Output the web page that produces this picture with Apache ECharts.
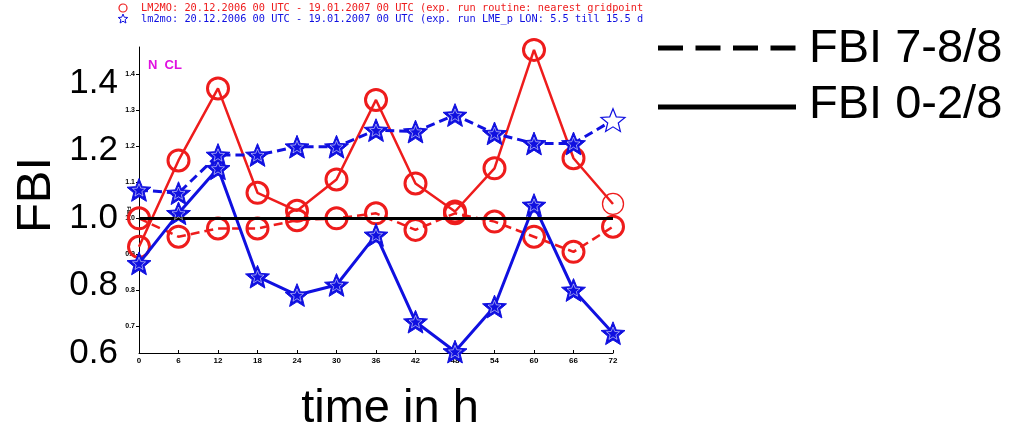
<!DOCTYPE html>
<html>
<head>
<meta charset="utf-8">
<script src="https://cdn.jsdelivr.net/npm/echarts@6/dist/echarts.min.js"></script>
<style>
  html, body { margin: 0; padding: 0; background: #fff; }
  #fbiChart { width: 1018px; height: 433px; }
</style>
</head>
<body>
<div id="fbiChart"></div>
<script>
// lead time in hours
const hours = ['0', '6', '12', '18', '24', '30', '36', '42', '48', '54', '60', '66', '72']
// LM2MO (red circles)
const lm2moClear = [0.92, 1.16, 1.36, 1.07, 1.02, 1.107, 1.328, 1.096, 1.018, 1.138, 1.467, 1.166, 1.039]
const lm2moCloudy = [0.999, 0.948, 0.971, 0.971, 0.994, 0.999, 1.013, 0.967, 1.013, 0.99, 0.948, 0.906, 0.976]
// lm2mo (blue stars)
const lmeClear = [0.874, 1.013, 1.138, 0.837, 0.786, 0.814, 0.953, 0.712, 0.629, 0.754, 1.036, 0.8, 0.68]
const lmeCloudy = [1.078, 1.069, 1.175, 1.175, 1.198, 1.198, 1.244, 1.24, 1.286, 1.235, 1.207, 1.207, 1.272]
// inner (original plot) and outer (overlaid) y tick labels
const innerTicks = [0.7, 0.8, 0.9, 1.0, 1.1, 1.2, 1.3, 1.4]
const outerTicks = [0.6, 0.8, 1.0, 1.2, 1.4]
const perfectScore = 1.0

const RED = '#ee1c1c'
const BLUE = '#1010e0'
const STAR_PTS = [[50, 0], [62.9, 32.3], [97.55, 34.55], [70.9, 56.8], [79.39, 90.45], [50, 72], [20.61, 90.45], [29.1, 56.8], [2.45, 34.55], [37.1, 32.3]]
const STAR = 'path://M' + STAR_PTS.map(function (p) { return p[0] + ' ' + p[1] }).join(' L') + ' Z'

// last point of the series is drawn hollow and thin
function lastHollow (values, color, isStar) {
  return values.map(function (v, i) {
    if (i !== values.length - 1) return v
    return {
      value: v,
      itemStyle: isStar
        ? { color: '#fff', borderColor: color, borderWidth: 1.2 }
        : { color: 'transparent', borderColor: color, borderWidth: 1.3 }
    }
  })
}
// white inner outline of the filled stars (skip the hollow last one)
function innerStars (values, skipLast) {
  return values.map(function (v, i) { return (skipLast && i === values.length - 1) ? '-' : v })
}

let myChart = echarts.init(document.getElementById('fbiChart'))
myChart.setOption({
  animation: false,
  grid: { left: 139, right: 405, top: 47, bottom: 80 },
  xAxis: {
    type: 'category',
    data: hours,
    boundaryGap: false,
    axisLine: { lineStyle: { color: '#000', width: 1 } },
    axisTick: { show: true, inside: true, length: 3, lineStyle: { color: '#000' } },
    axisLabel: { color: '#000', fontSize: 8, fontWeight: 'bold', margin: 4, fontFamily: 'Liberation Sans' },
    splitLine: { show: false }
  },
  yAxis: [
    {
      type: 'value',
      min: 0.625,
      max: 1.475,
      position: 'left',
      axisLine: { show: true, onZero: false, lineStyle: { color: '#000', width: 1 } },
      axisTick: { show: true, length: 3, customValues: innerTicks, lineStyle: { color: '#000' } },
      axisLabel: {
        customValues: innerTicks,
        color: '#000',
        fontSize: 7,
        fontWeight: 'bold',
        margin: 4,
        fontFamily: 'Liberation Sans',
        formatter: function (v) { return v.toFixed(1) }
      },
      splitLine: { show: false }
    },
    {
      type: 'value',
      min: 0.6,
      max: 1.507,
      position: 'left',
      axisLine: { show: false },
      axisTick: { show: false, customValues: outerTicks },
      axisLabel: {
        customValues: outerTicks,
        color: '#000',
        fontSize: 35,
        margin: 21,
        fontFamily: 'Liberation Sans',
        formatter: function (v) { return v.toFixed(1) }
      },
      splitLine: { show: false }
    }
  ],
  series: [
    {
      name: 'LM2MO FBI 0-2/8',
      type: 'line',
      data: lastHollow(lm2moClear, RED, false),
      symbol: 'circle',
      symbolSize: 21,
      clip: false,
      lineStyle: { color: RED, width: 2.5 },
      itemStyle: { color: 'transparent', borderColor: RED, borderWidth: 3 },
      z: 3,
      markLine: {
        silent: true,
        symbol: 'none',
        label: { show: false },
        lineStyle: { color: '#000', type: 'solid', width: 3 },
        data: [{ yAxis: perfectScore }]
      }
    },
    {
      name: 'LM2MO FBI 7-8/8',
      type: 'line',
      data: lm2moCloudy,
      symbol: 'circle',
      symbolSize: 21,
      clip: false,
      lineStyle: { color: RED, width: 2.5, type: [9, 5] },
      itemStyle: { color: 'transparent', borderColor: RED, borderWidth: 3 },
      z: 3
    },
    {
      name: 'lm2mo FBI 0-2/8',
      type: 'line',
      data: lmeClear,
      symbol: STAR,
      symbolKeepAspect: true,
      symbolSize: 24,
      clip: false,
      lineStyle: { color: BLUE, width: 3 },
      itemStyle: { color: BLUE, borderColor: BLUE, borderWidth: 1 },
      z: 4
    },
    {
      name: 'lm2mo FBI 7-8/8',
      type: 'line',
      data: lastHollow(lmeCloudy, BLUE, true),
      symbol: STAR,
      symbolKeepAspect: true,
      symbolSize: 24,
      clip: false,
      lineStyle: { color: BLUE, width: 3, type: [9, 5] },
      itemStyle: { color: BLUE, borderColor: BLUE, borderWidth: 1 },
      z: 4
    },
    {
      type: 'scatter',
      data: innerStars(lmeClear, false).concat([]),
      symbol: STAR,
      symbolKeepAspect: true,
      symbolSize: 13,
      clip: false,
      silent: true,
      itemStyle: { color: 'transparent', borderColor: 'rgba(255,255,255,0.85)', borderWidth: 0.8 },
      z: 5
    },
    {
      type: 'scatter',
      data: innerStars(lmeCloudy, true),
      symbol: STAR,
      symbolKeepAspect: true,
      symbolSize: 13,
      clip: false,
      silent: true,
      itemStyle: { color: 'transparent', borderColor: 'rgba(255,255,255,0.85)', borderWidth: 0.8 },
      z: 5
    }
  ],
  graphic: [
    // run description header
    { type: 'circle', shape: { cx: 123, cy: 8, r: 4 }, style: { fill: 'none', stroke: RED, lineWidth: 1.2 } },
    { type: 'text', x: 141, y: 8, style: { text: 'LM2MO: 20.12.2006 00 UTC - 19.01.2007 00 UTC (exp. run routine: nearest gridpoint', fill: RED, font: '10.3px "DejaVu Sans Mono"', verticalAlign: 'middle' } },
    { type: 'polygon', x: 118, y: 14, scaleX: 0.1, scaleY: 0.1, shape: { points: STAR_PTS }, style: { fill: 'none', stroke: BLUE, lineWidth: 10 } },
    { type: 'text', x: 141, y: 19, style: { text: 'lm2mo: 20.12.2006 00 UTC - 19.01.2007 00 UTC (exp. run LME_p LON: 5.5 till 15.5 d', fill: BLUE, font: '10.3px "DejaVu Sans Mono"', verticalAlign: 'middle' } },
    // cloud class tag
    { type: 'text', x: 148, y: 65, style: { text: 'N  CL', fill: '#e010e0', font: 'bold 13px "Liberation Sans"', verticalAlign: 'middle' } },
    // tiny original axis title
    { type: 'text', x: 129, y: 211, rotation: -Math.PI / 2, style: { text: 'FBI', fill: '#000', font: 'bold 6px "Liberation Sans"', align: 'center', verticalAlign: 'middle' } },
    // axis titles
    { type: 'text', x: 36, y: 195, rotation: Math.PI / 2, style: { text: 'FBI', fill: '#000', font: '49px "Liberation Sans"', align: 'center', verticalAlign: 'middle' } },
    { type: 'text', x: 390, y: 409, style: { text: 'time in h', fill: '#000', font: '47px "Liberation Sans"', align: 'center', verticalAlign: 'middle' } },
    // legend
    { type: 'line', shape: { x1: 658, y1: 48, x2: 796, y2: 48 }, style: { stroke: '#000', lineWidth: 5, lineDash: [25, 12.5] } },
    { type: 'text', x: 809, y: 49, style: { text: 'FBI 7-8/8', fill: '#000', font: '47px "Liberation Sans"', verticalAlign: 'middle' } },
    { type: 'line', shape: { x1: 658, y1: 107, x2: 796, y2: 107 }, style: { stroke: '#000', lineWidth: 5 } },
    { type: 'text', x: 809, y: 105, style: { text: 'FBI 0-2/8', fill: '#000', font: '47px "Liberation Sans"', verticalAlign: 'middle' } }
  ]
})
</script>
</body>
</html>
